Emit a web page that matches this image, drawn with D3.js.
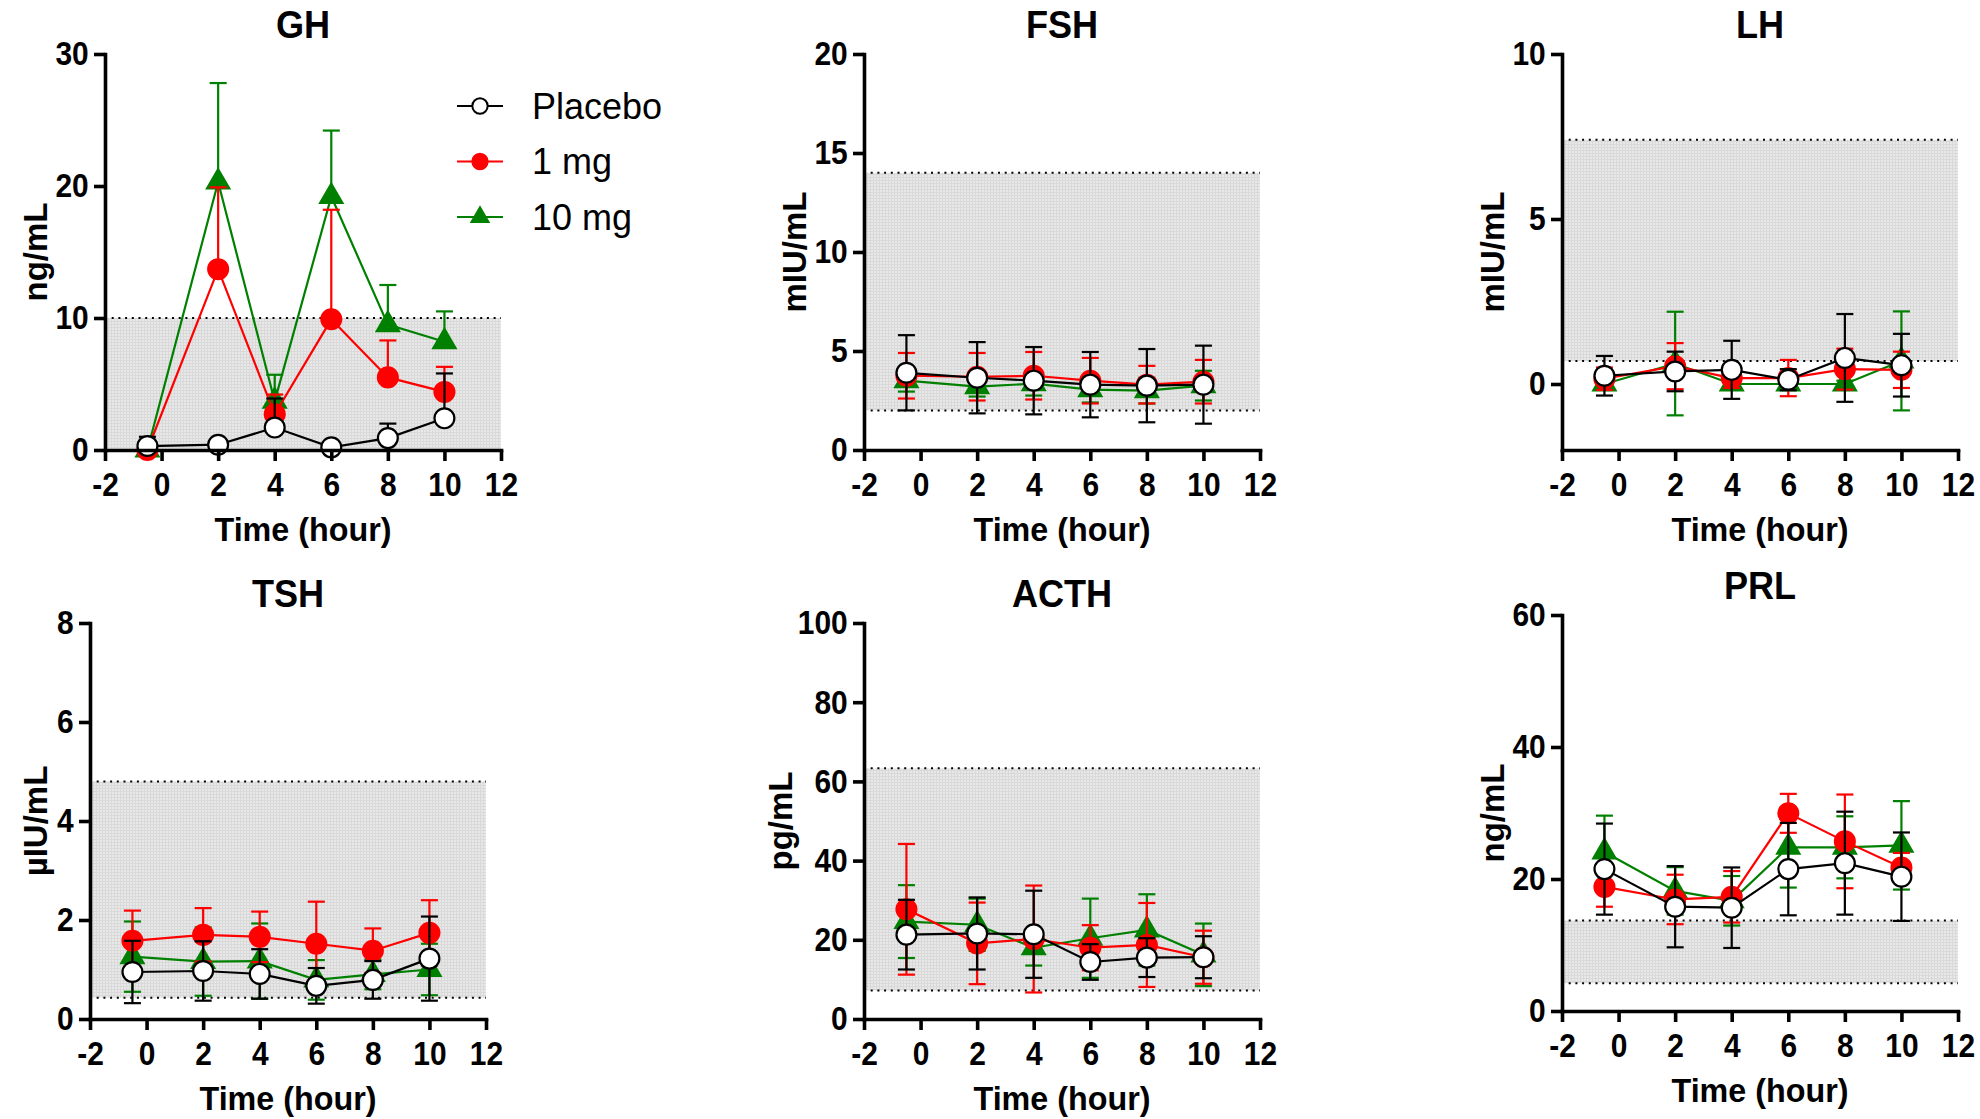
<!DOCTYPE html>
<html>
<head>
<meta charset="utf-8">
<script src="https://cdn.jsdelivr.net/npm/d3@7"></script>
<style>
  body { margin: 0; background: #fff; }
  text { font-family: "Liberation Sans", Arial, sans-serif; }
</style>
</head>
<body>
<svg id="chart"></svg>
<script>
// sampling times (hour), groups and x ticks
const times = [-0.5, 2, 4, 6, 8, 10];
const groups = ["Placebo", "1 mg", "10 mg"];
const xTicks = [-2, 0, 2, 4, 6, 8, 10, 12];

// one entry per panel
const panelNames = ["GH", "FSH", "LH", "TSH", "ACTH", "PRL"];
const units = ["ng/mL", "mIU/mL", "mIU/mL", "\u00b5IU/mL", "pg/mL", "ng/mL"];
const yMin = [0, 0, -2, 0, 0, 0];
const yMax = [30, 20, 10, 8, 100, 60];
const yStep = [10, 5, 5, 2, 20, 20];
const refLow = [0, 2, 0.7, 0.43, 7.2, 4.2];
const refHigh = [10, 14, 7.4, 4.8, 63.3, 13.7];

// means and SD, rows = Placebo, 1 mg, 10 mg
const ghMean = [
  [0.3, 0.4, 1.7, 0.2, 0.9, 2.4],
  [0.0, 13.7, 2.7, 9.9, 5.5, 4.4],
  [0.0, 20.3, 3.7, 19.2, 9.5, 8.2],
];
const ghSd = [
  [0.7, 0.3, 2.2, 0.3, 1.1, 3.4],
  [0.1, 6.2, 1.5, 8.3, 2.8, 1.9],
  [0.1, 7.5, 2.0, 5.0, 3.0, 2.3],
];

const fshMean = [
  [3.9, 3.65, 3.5, 3.3, 3.25, 3.3],
  [3.75, 3.7, 3.75, 3.5, 3.3, 3.45],
  [3.5, 3.2, 3.35, 3.05, 3.0, 3.25],
];
const fshSd = [
  [1.9, 1.8, 1.7, 1.65, 1.85, 1.97],
  [1.15, 1.2, 1.2, 1.15, 0.95, 1.1],
  [0.55, 0.5, 0.6, 0.65, 0.65, 0.75],
];

const lhMean = [
  [0.25, 0.38, 0.43, 0.13, 0.79, 0.57],
  [0.16, 0.54, 0.18, 0.18, 0.45, 0.43],
  [0.0, 0.62, 0.0, 0.0, 0.0, 0.7],
];
const lhSd = [
  [0.6, 0.6, 0.88, 0.32, 1.33, 0.95],
  [0.34, 0.7, 0.3, 0.55, 0.62, 0.55],
  [0.1, 1.57, 0.1, 0.05, 0.1, 1.5],
];

const tshMean = [
  [0.95, 0.97, 0.91, 0.67, 0.79, 1.22],
  [1.58, 1.7, 1.66, 1.52, 1.38, 1.74],
  [1.26, 1.16, 1.17, 0.79, 0.9, 1.0],
];
const tshSd = [
  [0.63, 0.6, 0.5, 0.36, 0.38, 0.85],
  [0.61, 0.54, 0.51, 0.85, 0.45, 0.66],
  [0.71, 0.69, 0.76, 0.4, 0.3, 0.52],
];

const acthMean = [
  [21.3, 21.6, 21.4, 14.4, 15.5, 15.6],
  [27.7, 19.1, 20.2, 18.0, 18.7, 15.6],
  [24.6, 23.8, 18.0, 20.4, 22.5, 16.2],
];
const acthSd = [
  [8.8, 9.1, 11.0, 4.5, 4.9, 5.3],
  [16.5, 10.3, 13.5, 5.7, 10.6, 6.7],
  [9.2, 6.6, 4.5, 10.0, 9.0, 7.9],
];

const prlMean = [
  [21.5, 15.8, 15.65, 21.5, 22.4, 20.35],
  [18.8, 16.9, 17.3, 29.95, 25.7, 21.75],
  [24.1, 18.2, 16.7, 24.8, 24.8, 25.1],
];
const prlSd = [
  [6.9, 6.15, 6.1, 7.0, 7.8, 6.7],
  [3.0, 3.75, 3.9, 2.95, 7.1, 2.2],
  [5.5, 3.6, 3.75, 6.1, 4.7, 6.7],
];

const means = [ghMean, fshMean, lhMean, tshMean, acthMean, prlMean];
const sds = [ghSd, fshSd, lhSd, tshSd, acthSd, prlSd];
const upperOnly = [true, false, false, false, false, false];

// layout
const width = 1980;
const height = 1119;
const size = 396;
const layout = [
  { x: 105, y: 54 }, { x: 864, y: 54 }, { x: 1562, y: 54 },
  { x: 90, y: 623 }, { x: 864, y: 623 }, { x: 1562, y: 615 },
];
const lineColors = ["#000000", "#ff0000", "#008000"];
const fillColors = ["#ffffff", "#ff0000", "#008000"];
const shapes = [d3.symbolCircle, d3.symbolCircle, d3.symbolTriangle];
const shapeSizes = [310, 310, 215];
const drawOrder = [2, 1, 0];
const squeeze = 0.88; // prism-like narrow bold digits

const svg = d3.select("#chart").attr("width", width).attr("height", height);
svg.append("rect").attr("width", width).attr("height", height).attr("fill", "#fff");

// fine grid texture for the reference range band
const pat = svg.append("defs").append("pattern")
  .attr("id", "band")
  .attr("width", 3)
  .attr("height", 3)
  .attr("patternUnits", "userSpaceOnUse");
pat.append("rect").attr("width", 3).attr("height", 3).attr("fill", "#e8e8e8");
pat.append("path").attr("d", "M0,0.5H3M0.5,0V3").attr("stroke", "#d9d9d9").attr("stroke-width", 1);

panelNames.forEach((name, i) => {
  const g = svg.append("g").attr("transform", `translate(${layout[i].x},${layout[i].y})`);

  const x = d3.scaleLinear().domain([-2, 12]).range([0, size]);
  const y = d3.scaleLinear().domain([yMin[i], yMax[i]]).range([size, 0]);

  // reference range
  g.append("rect")
    .attr("x", x(-2))
    .attr("y", y(refHigh[i]))
    .attr("width", x(12) - x(-2))
    .attr("height", y(refLow[i]) - y(refHigh[i]))
    .attr("fill", "url(#band)");

  g.selectAll("line.ref")
    .data([refLow[i], refHigh[i]])
    .enter()
    .append("line")
    .attr("class", "ref")
    .attr("x1", x(-2))
    .attr("x2", x(12))
    .attr("y1", (d) => y(d))
    .attr("y2", (d) => y(d))
    .style("stroke", "#000")
    .style("stroke-width", 2)
    .style("stroke-dasharray", "2,4.7");

  // series
  drawOrder.forEach((k) => {
    const pts = times.map((t, j) => ({ t: t, m: means[i][k][j], s: sds[i][k][j] }));
    const color = lineColors[k];

    g.append("path")
      .datum(pts)
      .attr("fill", "none")
      .attr("stroke", color)
      .attr("stroke-width", 2.2)
      .attr("d", d3.line().x((d) => x(d.t)).y((d) => y(d.m)));

    const eb = g.append("g").attr("stroke", color).attr("stroke-width", 2.2);
    pts.forEach((d) => {
      const lo = upperOnly[i] ? d.m : d.m - d.s;
      const hi = d.m + d.s;
      eb.append("line").attr("x1", x(d.t)).attr("x2", x(d.t)).attr("y1", y(lo)).attr("y2", y(hi));
      eb.append("line").attr("x1", x(d.t) - 8.5).attr("x2", x(d.t) + 8.5).attr("y1", y(hi)).attr("y2", y(hi));
      if (!upperOnly[i]) {
        eb.append("line").attr("x1", x(d.t) - 8.5).attr("x2", x(d.t) + 8.5).attr("y1", y(lo)).attr("y2", y(lo));
      }
    });

    g.selectAll(null)
      .data(pts)
      .enter()
      .append("path")
      .attr("transform", (d) => `translate(${x(d.t)},${y(d.m)})`)
      .attr("d", d3.symbol().type(shapes[k]).size(shapeSizes[k]))
      .attr("fill", fillColors[k])
      .attr("stroke", color)
      .attr("stroke-width", 2.2);
  });

  // axes
  const xAxis = g.append("g")
    .attr("transform", `translate(0,${size})`)
    .call(d3.axisBottom(x).tickValues(xTicks).tickSize(11).tickSizeOuter(0).tickPadding(11).tickFormat((d) => String(d)));

  const yTicks = d3.range(0, yMax[i] + yStep[i] / 2, yStep[i]);
  const yAxis = g.append("g")
    .call(d3.axisLeft(y).tickValues(yTicks).tickSize(11).tickSizeOuter(0).tickPadding(7.5).tickFormat((d) => String(d)));

  [xAxis, yAxis].forEach((a) => {
    a.select(".domain").style("stroke-width", 3.6).style("stroke-linecap", "square");
    a.selectAll(".tick line").style("stroke-width", 3.6);
    a.selectAll("text")
      .attr("transform", `scale(${squeeze},1)`)
      .style("fill", "#000")
      .style("font-size", "34px")
      .style("font-weight", "bold");
  });

  // titles
  g.append("text")
    .attr("transform", `translate(${size / 2},-16) scale(0.95,1)`)
    .attr("text-anchor", "middle")
    .style("font-size", "38px")
    .style("font-weight", "bold")
    .text(name);

  g.append("text")
    .attr("transform", `translate(${size / 2},${size + 91}) scale(0.95,1)`)
    .attr("text-anchor", "middle")
    .style("font-size", "34px")
    .style("font-weight", "bold")
    .text("Time (hour)");

  const left = yAxis.node().getBBox().x * squeeze;
  g.append("text")
    .attr("transform", `translate(${left - 14},${size / 2}) rotate(-90)`)
    .attr("text-anchor", "middle")
    .style("font-size", "33px")
    .style("font-weight", "bold")
    .text(units[i]);

  // legend on the first panel
  if (i === 0) {
    const leg = g.append("g").attr("transform", "translate(352,52)");
    groups.forEach((label, k) => {
      const row = leg.append("g").attr("transform", `translate(0,${k * 55.5})`);
      row.append("line").attr("x1", 0).attr("x2", 46).attr("stroke", lineColors[k]).attr("stroke-width", 2.2);
      row.append("path")
        .attr("transform", "translate(23,0)")
        .attr("d", d3.symbol().type(shapes[k]).size(k === 2 ? 125 : 185))
        .attr("fill", fillColors[k])
        .attr("stroke", lineColors[k])
        .attr("stroke-width", 2);
      row.append("text")
        .attr("x", 75)
        .attr("dy", "0.36em")
        .style("font-size", "36px")
        .text(label);
    });
  }
});
</script>
</body>
</html>
